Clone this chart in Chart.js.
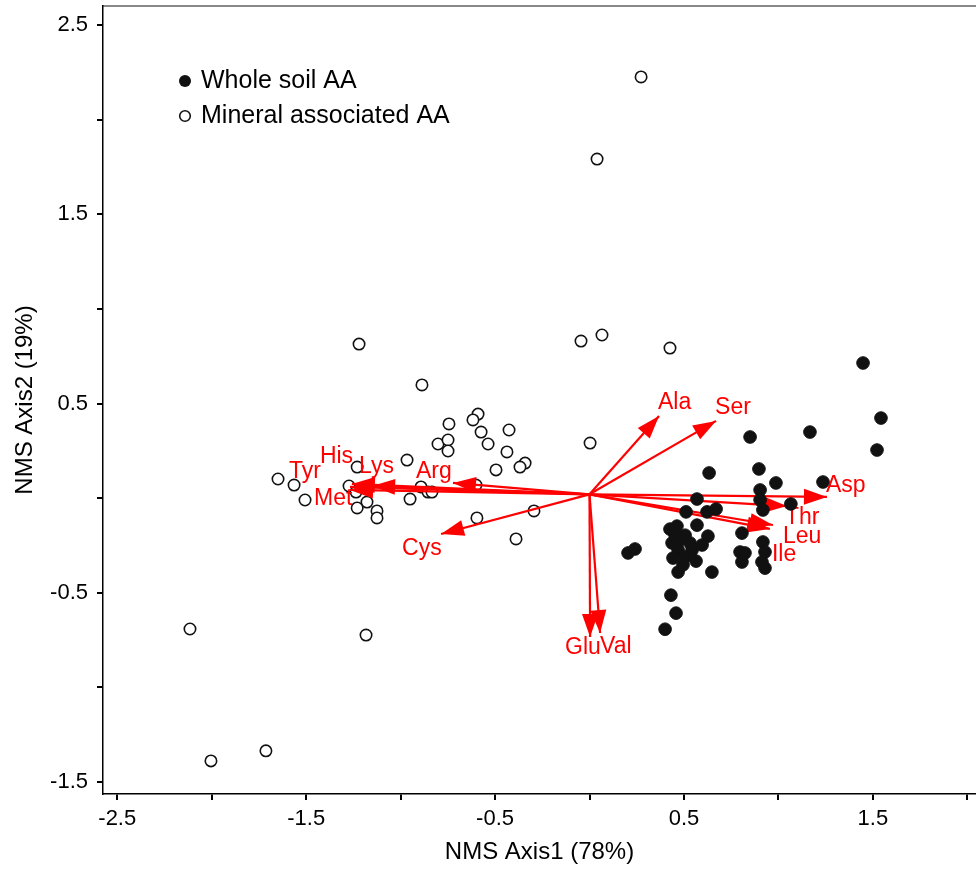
<!DOCTYPE html>
<html>
<head>
<meta charset="utf-8">
<script src="https://cdn.jsdelivr.net/npm/chart.js@4"></script>
<style>
  html, body { margin: 0; padding: 0; background: #fff; overflow: hidden; }
  #wrap { width: 976px; height: 873px; }
  canvas { display: block; }
</style>
</head>
<body>
<div id="wrap"><canvas id="myChart" width="976" height="873"></canvas></div>
<script>
// DATA

const seriesNames = ["Whole soil AA", "Mineral associated AA"];

// NMS scores [Axis1, Axis2]
const wholeSoil = [
  [1.448, 0.714], [1.543, 0.423], [1.522, 0.254], [1.167, 0.349], [0.850, 0.323],
  [0.633, 0.133], [0.897, 0.154], [0.987, 0.080], [1.236, 0.085], [0.903, 0.043],
  [0.903, -0.010], [0.918, -0.063], [1.066, -0.031], [0.569, -0.005], [0.511, -0.073],
  [0.670, -0.058], [0.622, -0.073], [0.463, -0.148], [0.426, -0.164], [0.569, -0.143],
  [0.506, -0.196], [0.627, -0.201], [0.437, -0.237], [0.532, -0.237], [0.469, -0.274],
  [0.442, -0.317], [0.506, -0.311], [0.564, -0.333], [0.469, -0.391], [0.648, -0.391],
  [0.204, -0.290], [0.241, -0.269], [0.807, -0.185], [0.797, -0.285], [0.823, -0.290],
  [0.807, -0.338], [0.918, -0.232], [0.929, -0.285], [0.913, -0.338], [0.929, -0.370],
  [0.431, -0.513], [0.458, -0.608], [0.400, -0.693], [0.479, -0.222], [0.543, -0.274],
  [0.495, -0.353], [0.596, -0.248], [0.453, -0.196]
];

const mineralAssoc = [
  [0.273, 2.226], [0.040, 1.792], [-0.045, 0.830], [0.066, 0.862], [0.426, 0.793],
  [-1.220, 0.814], [-0.887, 0.598], [-0.590, 0.444], [-0.617, 0.413], [-0.744, 0.392],
  [-0.574, 0.349], [-0.426, 0.360], [-0.802, 0.286], [-0.749, 0.307], [-0.749, 0.249],
  [-0.537, 0.286], [-0.437, 0.244], [-0.495, 0.149], [-0.341, 0.185], [-0.368, 0.164],
  [0.003, 0.291], [-0.596, -0.105], [-0.294, -0.068], [-0.389, -0.216], [-0.601, 0.069],
  [-0.966, 0.201], [-1.230, 0.164], [-1.649, 0.101], [-1.564, 0.069], [-1.506, -0.010],
  [-1.273, 0.064], [-1.236, 0.032], [-1.178, -0.021], [-1.230, -0.052], [-1.125, -0.068],
  [-1.125, -0.105], [-0.950, -0.005], [-0.892, 0.059], [-0.855, 0.032], [-0.834, 0.032],
  [-2.115, -0.692], [-2.004, -1.389], [-1.713, -1.336], [-1.183, -0.724]
];

// amino acid vectors (biplot)
const vectorOrigin = [0.0, 0.02];
const aaNames = ["Ala", "Ser", "Asp", "Thr", "Leu", "Ile", "Glu", "Val", "Arg", "Cys", "His", "Tyr", "Lys", "Met"];
const aaAxis1 = [0.368, 0.670, 1.257, 1.045, 0.971, 0.955, 0.003, 0.056, -0.723, -0.786, -1.258, -1.268, -1.151, -1.268];
const aaAxis2 = [0.434, 0.408, 0.006, -0.042, -0.142, -0.163, -0.734, -0.713, 0.080, -0.190, 0.075, 0.059, 0.064, 0.043];

const xTicks = [-2.5, -2, -1.5, -1, -0.5, 0, 0.5, 1, 1.5, 2];
const xTickLabels = ["-2.5", "", "-1.5", "", "-0.5", "", "0.5", "", "1.5", ""];
const yTicks = [-1.5, -1, -0.5, 0, 0.5, 1, 1.5, 2, 2.5];
const yTickLabels = ["-1.5", "", "-0.5", "", "0.5", "", "1.5", "", "2.5"];

// label offsets from arrow tip, px
const labelOffset = {
  Ala: [-1, -13], Ser: [-1, -13], Asp: [-1, -11], Thr: [-2, 12], Leu: [10, 12],
  Ile: [2, 26], Glu: [-25, 11], Val: [0, 14], Arg: [-37, -11], Cys: [-39, 15],
  His: [-32, -27], Tyr: [-61, -15], Lys: [-13, -19], Met: [-36, 9]
};

const FONT = "'Liberation Sans', Arial, sans-serif";
Chart.defaults.font.family = FONT;
Chart.defaults.color = "#000";

// DATASETS

const toPts = (arr) => arr.map((p) => ({ x: p[0], y: p[1] }));

let datasets = [
  {
    type: "scatter",
    label: seriesNames[0],
    data: toPts(wholeSoil),
    backgroundColor: "#111",
    borderColor: "#111",
    borderWidth: 1,
    pointRadius: 6.3,
    order: 0
  },
  {
    type: "scatter",
    label: seriesNames[1],
    data: toPts(mineralAssoc),
    backgroundColor: "#fff",
    borderColor: "#111",
    borderWidth: 1.6,
    pointRadius: 5.7,
    order: 3
  }
];

aaNames.forEach((name, i) => {
  datasets.push({
    type: "line",
    label: name,
    isVector: true,
    data: [
      { x: vectorOrigin[0], y: vectorOrigin[1] },
      { x: aaAxis1[i], y: aaAxis2[i] }
    ],
    borderColor: "#ff0000",
    borderWidth: 2.2,
    pointRadius: 0,
    fill: false,
    order: 1
  });
});

// arrow heads + labels, drawn just before the filled points
const vectorPlugin = {
  id: "vectors",
  beforeDatasetDraw(chart, args) {
    if (args.index !== 0) return;
    const ctx = chart.ctx;
    ctx.save();
    chart.data.datasets.forEach((ds, i) => {
      if (!ds.isVector) return;
      const meta = chart.getDatasetMeta(i);
      const p0 = meta.data[0];
      const p1 = meta.data[1];
      const a = Math.atan2(p1.y - p0.y, p1.x - p0.x);
      const len = 23, hw = 8;
      ctx.fillStyle = "#ff0000";
      ctx.beginPath();
      ctx.moveTo(p1.x, p1.y);
      ctx.lineTo(p1.x - len * Math.cos(a) - hw * Math.sin(a), p1.y - len * Math.sin(a) + hw * Math.cos(a));
      ctx.lineTo(p1.x - len * Math.cos(a) + hw * Math.sin(a), p1.y - len * Math.sin(a) - hw * Math.cos(a));
      ctx.closePath();
      ctx.fill();
      const off = labelOffset[ds.label] || [0, 0];
      ctx.font = "23px " + FONT;
      ctx.textAlign = "left";
      ctx.textBaseline = "middle";
      ctx.fillText(ds.label, p1.x + off[0], p1.y + off[1]);
    });
    ctx.restore();
  }
};

// legend inside plot, top-left
const legendPlugin = {
  id: "insideLegend",
  afterDraw(chart) {
    const ctx = chart.ctx;
    const left = chart.chartArea.left + 82;
    const top = chart.chartArea.top + 75;
    ctx.save();
    ctx.font = "25px " + FONT;
    ctx.textBaseline = "middle";
    // filled
    ctx.beginPath();
    ctx.arc(left, top, 6, 0, Math.PI * 2);
    ctx.fillStyle = "#111";
    ctx.fill();
    ctx.fillStyle = "#000";
    ctx.fillText(seriesNames[0], left + 16, top);
    // open
    ctx.beginPath();
    ctx.arc(left, top + 35, 5.3, 0, Math.PI * 2);
    ctx.fillStyle = "#fff";
    ctx.fill();
    ctx.lineWidth = 1.6;
    ctx.strokeStyle = "#111";
    ctx.stroke();
    ctx.fillStyle = "#000";
    ctx.fillText(seriesNames[1], left + 16, top + 35);
    ctx.restore();
  }
};

function noPad(scale) {
  scale.paddingTop = 0;
  scale.paddingBottom = 0;
  scale.paddingLeft = 0;
  scale.paddingRight = 0;
}

const ctx = document.getElementById("myChart").getContext("2d");

let myChart = new Chart(ctx, {
  data: { datasets: datasets },
  options: {
    responsive: false,
    animation: false,
    layout: { padding: 0, autoPadding: false },
    plugins: {
      legend: { display: false },
      tooltip: { enabled: false }
    },
    scales: {
      x: {
        type: "linear",
        position: "bottom",
        min: -2.5755,
        max: 2.046,
        afterBuildTicks: (scale) => {
          scale.ticks = xTicks.map((v) => ({ value: v }));
        },
        afterFit: (scale) => {
          scale.height = 79;
          noPad(scale);
        },
        ticks: {
          autoSkip: false,
          maxRotation: 0,
          padding: 6,
          font: { size: 22 },
          color: "#000",
          callback: (v) => xTickLabels[xTicks.indexOf(v)]
        },
        grid: {
          drawOnChartArea: false,
          drawTicks: true,
          tickLength: 6,
          lineWidth: 2,
          color: "#000"
        },
        border: { display: true, color: "#000", width: 1.5 },
        title: {
          display: true,
          text: "NMS Axis1 (78%)",
          font: { size: 24 },
          color: "#000",
          padding: { top: 0, bottom: 6 }
        }
      },
      x2: {
        type: "linear",
        position: "top",
        min: -2.5755,
        max: 2.046,
        afterFit: (scale) => {
          scale.height = 6;
          noPad(scale);
        },
        ticks: { display: false },
        grid: { display: false, drawTicks: false },
        border: { display: true, color: "#888", width: 2 }
      },
      y: {
        type: "linear",
        position: "left",
        min: -1.564,
        max: 2.601,
        afterBuildTicks: (scale) => {
          scale.ticks = yTicks.map((v) => ({ value: v }));
        },
        afterFit: (scale) => {
          scale.width = 103;
          noPad(scale);
        },
        ticks: {
          autoSkip: false,
          padding: 9,
          font: { size: 22 },
          color: "#000",
          callback: (v) => yTickLabels[yTicks.indexOf(v)]
        },
        grid: {
          drawOnChartArea: false,
          drawTicks: true,
          tickLength: 6,
          lineWidth: 2,
          color: "#000"
        },
        border: { display: true, color: "#000", width: 1.5 },
        title: {
          display: true,
          text: "NMS Axis2 (19%)",
          font: { size: 24 },
          color: "#000",
          padding: { top: 11, bottom: 0 }
        }
      }
    }
  },
  plugins: [vectorPlugin, legendPlugin]
});
</script>
</body>
</html>
